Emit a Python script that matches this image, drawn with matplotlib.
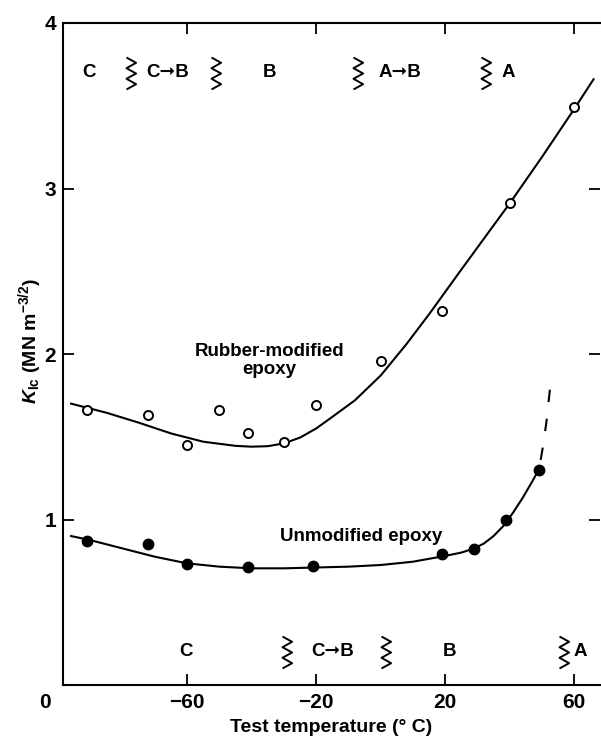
import matplotlib
matplotlib.use("Agg")
import matplotlib.pyplot as plt
from matplotlib.path import Path

# K_Ic against test temperature
# rubber-modified epoxy (open circles)
rubber_T = [-91, -72, -60, -50, -41, -30, -20, 0, 19, 40, 60]
rubber_K = [1.66, 1.63, 1.45, 1.66, 1.52, 1.47, 1.69, 1.96, 2.26, 2.91, 3.49]
# hand-drawn trend line through them
rubber_fit_T = [-96, -85, -75, -65, -55, -45, -40, -35, -30, -25, -20, -15, -8, 0, 8,
                15, 25, 40, 50, 60, 66]
rubber_fit_K = [1.70, 1.645, 1.585, 1.52, 1.47, 1.445, 1.44, 1.443, 1.46, 1.495, 1.55,
                1.62, 1.72, 1.87, 2.06, 2.24, 2.51, 2.91, 3.19, 3.48, 3.66]

# unmodified epoxy (filled circles)
plain_T = [-91, -72, -60, -41, -21, 19, 29, 39, 49]
plain_K = [0.87, 0.85, 0.73, 0.71, 0.72, 0.79, 0.82, 1.00, 1.30]
plain_fit_T = [-96, -90, -80, -70, -60, -50, -40, -30, -20, -10, 0, 10, 20, 25, 29, 32,
               35, 38, 41, 44, 47, 49]
plain_fit_K = [0.90, 0.875, 0.825, 0.775, 0.735, 0.715, 0.705, 0.705, 0.71, 0.715, 0.725,
               0.745, 0.78, 0.80, 0.825, 0.855, 0.90, 0.96, 1.04, 1.13, 1.23, 1.30]
# dashed extrapolation above the last point
plain_dash_T = [49.6, 50.3, 51.4, 52.6]
plain_dash_K = [1.36, 1.44, 1.59, 1.81]

# fracture-mode regions (top row: rubber-modified, bottom row: unmodified)
top_labels = ["C", "C\u279eB", "B", "A\u279eB", "A"]
top_label_T = [-90.5, -66, -34.5, 6, 39.5]
top_breaks_T = [-79, -52.7, -8.6, 31]
top_row_K = 3.70

bottom_labels = ["C", "C\u279eB", "B", "A"]
bottom_label_T = [-60.5, -14.8, 21.2, 62]
bottom_breaks_T = [-30.7, 0.1, 55.4]
bottom_row_K = 0.20

xticks = [-60, -20, 20, 60]
yticks = [1, 2, 3, 4]

plt.rcParams['font.family'] = ['Liberation Sans', 'DejaVu Sans']
plt.rcParams['font.weight'] = 'bold'
plt.rcParams['axes.labelweight'] = 'bold'
plt.rcParams['font.size'] = 13.5
plt.rcParams['mathtext.fontset'] = 'custom'
plt.rcParams['mathtext.rm'] = 'Liberation Sans:bold'
plt.rcParams['mathtext.it'] = 'Liberation Sans:italic:bold'

fig = plt.figure(figsize=(6.01, 7.36), dpi=100)
ax = fig.add_axes([63 / 601, 1 - 685 / 736, (600 - 63) / 601, (685 - 23) / 736])

ax.plot(rubber_fit_T, rubber_fit_K, color='black', lw=1.5)
ax.plot(plain_fit_T, plain_fit_K, color='black', lw=1.5)
ax.plot(plain_dash_T, plain_dash_K, color='black', lw=1.5, dashes=(6, 8))
ax.plot(rubber_T, rubber_K, ls='none', marker='o', ms=6.5, mfc='white', mec='black', mew=1.4)
ax.plot(plain_T, plain_K, ls='none', marker='o', ms=7.5, mfc='black', mec='black')

# wavy boundary mark between regions
squiggle = Path([(0.0, 1.0), (0.6, 0.67), (0.0, 0.33), (0.6, 0.0),
                 (0.0, -0.33), (0.6, -0.67), (0.0, -1.0)])

ax.plot(top_breaks_T, [top_row_K] * len(top_breaks_T), ls='none', marker=squiggle,
        ms=23, mfc='none', mec='black', mew=1.4)
ax.plot(bottom_breaks_T, [bottom_row_K] * len(bottom_breaks_T), ls='none', marker=squiggle,
        ms=23, mfc='none', mec='black', mew=1.4)

for t, s in zip(top_label_T, top_labels):
    ax.text(t, top_row_K, s, ha='center', va='center', fontweight='bold')
for t, s in zip(bottom_label_T, bottom_labels):
    ax.text(t, bottom_row_K, s, ha='center', va='center', fontweight='bold')

ax.text(-34.5, 1.96, "Rubber-modified\nepoxy", ha='center', va='center', linespacing=1.1,
        fontweight='bold')
ax.text(-6, 0.90, "Unmodified epoxy", ha='center', va='center', fontweight='bold')

ax.set_xlim(-98.5, 68)
ax.set_ylim(0, 4)
ax.set_xticks(xticks)
ax.set_xticklabels([str(v).replace('-', '\u2212') for v in xticks], fontweight='bold')
ax.set_yticks(yticks)
ax.set_yticklabels([str(v) for v in yticks], fontweight='bold')
ax.tick_params(direction='in', length=8, width=1.3, top=True, right=True, labelsize=15)
ax.tick_params(axis='x', pad=6)
ax.tick_params(axis='y', pad=5)
for side in ['left', 'bottom', 'top']:
    ax.spines[side].set_linewidth(1.5)
ax.spines['right'].set_visible(False)

ax.text(-0.034, -0.012, "0", transform=ax.transAxes, ha='center', va='top', fontsize=15,
        fontweight='bold')
ax.set_xlabel("Test temperature (\u00b0 C)", fontsize=14, labelpad=5)
ax.set_ylabel(r"$K_{\mathrm{Ic}}$ (MN m$^{-3/2}$)", fontsize=14)
ax.yaxis.set_label_coords(-0.036, 0.52)

fig.savefig("out.png", dpi=100)
